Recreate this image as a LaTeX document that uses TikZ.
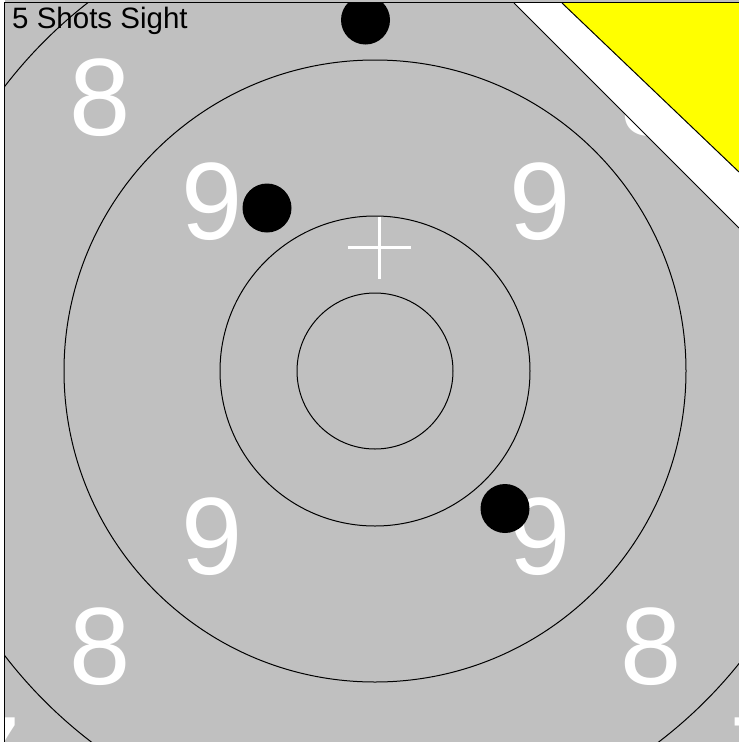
\documentclass[tikz,border=0pt]{standalone}
\usepackage{fontspec}
\setmainfont{Liberation Sans}
\definecolor{tgray}{HTML}{C0C0C0}
\definecolor{tyellow}{HTML}{FFFF00}
\begin{document}
\begin{tikzpicture}[x=1pt,y=-1pt,
  ring/.style={draw=black,line width=1pt},
  digit/.style={text=white,inner sep=0pt,anchor=center,font=\fontsize{110}{110}\selectfont},
  shot/.style={fill=black},
  edge/.style={draw=black,line width=1pt}]
\useasboundingbox (0,0) rectangle (739,742);
\fill[tgray] (0,0) rectangle (739,742);
\fill[white] (0,0) rectangle (4.5,742);
\begin{scope}
\clip (5,3) rectangle (739,742);
\coordinate (c) at (375,371);
% rings
\draw[ring] (c) circle[radius=78];
\draw[ring] (c) circle[radius=155];
\draw[ring] (c) circle[radius=311];
\draw[ring] (c) circle[radius=467];
% ring numbers
\node[digit] (e1) at (100.5,97.5) {8};
\node[digit] (e2) at (651,97.5) {8};
\node[digit] (e3) at (100.5,647) {8};
\node[digit] (e4) at (651,647) {8};
\node[digit] (n1) at (212,202) {9};
\node[digit] (n2) at (540,202) {9};
\node[digit] (n3) at (212,537) {9};
\node[digit] (n4) at (540,537) {9};
\node[digit] (s1) at (-10,756) {7};
\node[digit] (s2) at (760,756) {7};
% cross
\coordinate (x0) at (379,247.5);
\draw[white,line width=3pt] ([xshift=-31.5pt]x0) -- ([xshift=31.5pt]x0);
\draw[white,line width=3pt] ([yshift=31pt]x0) -- ([yshift=-31pt]x0);
% top-right band and triangle
\coordinate (b1) at (514,3);
\coordinate (b2) at (739,228);
\coordinate (y1) at (562,3);
\coordinate (y2) at (739,172);
\fill[white] (b1) -- (739,3) -- (b2) -- cycle;
\draw[edge] (b1) -- (b2);
\fill[tyellow] (y1) -- (739,3) -- (y2) -- cycle;
\draw[edge] (y1) -- (y2);
% shots
\fill[shot] (365.5,20) circle[radius=24.5];
\fill[shot] (267,208) circle[radius=24.5];
\fill[shot] (505,508.5) circle[radius=24.5];
\end{scope}
% title
\node[anchor=base west,inner sep=0pt,font=\fontsize{29.5}{29.5}\selectfont] (title) at (12,28.3) {5 Shots Sight};
% frame
\draw[black,line width=1.2pt] (4.5,742) -- (4.5,2.6) -- (739,2.6);
\end{tikzpicture}
\end{document}
